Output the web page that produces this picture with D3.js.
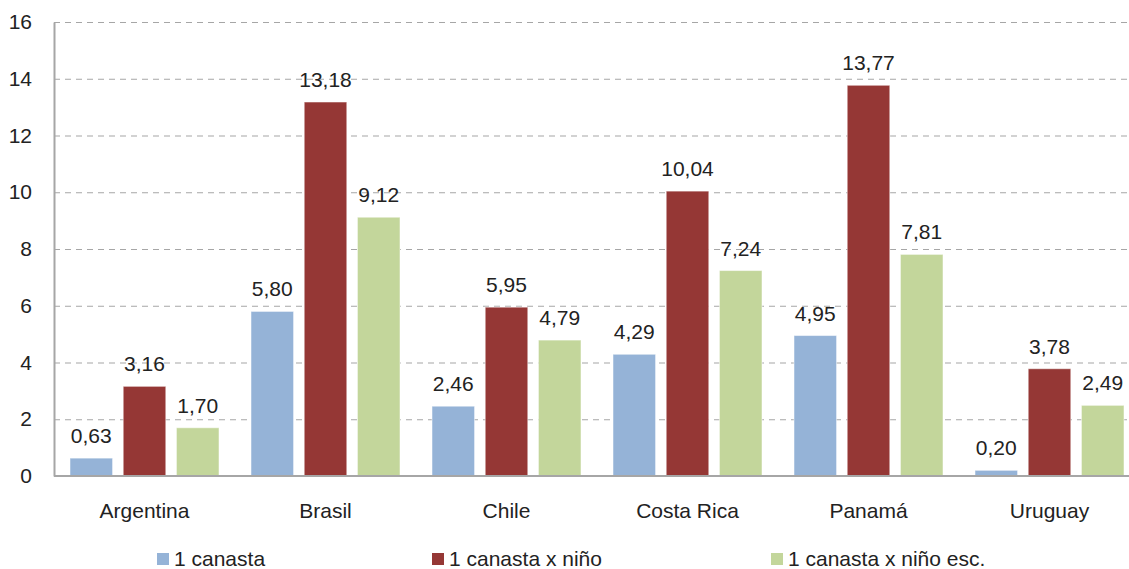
<!DOCTYPE html>
<html><head><meta charset="utf-8">
<script src="https://cdn.jsdelivr.net/npm/d3@7"></script>
<style>body{margin:0;background:#fff}svg{display:block}text{font-family:"Liberation Sans",Arial,sans-serif;fill:#222}</style>
</head><body>
<script>
const categories = ["Argentina","Brasil","Chile","Costa Rica","Panamá","Uruguay"];
const seriesNames = ["1 canasta","1 canasta x niño","1 canasta x niño esc."];
const canasta = [0.63,5.80,2.46,4.29,4.95,0.20];
const canastaNino = [3.16,13.18,5.95,10.04,13.77,3.78];
const canastaNinoEsc = [1.70,9.12,4.79,7.24,7.81,2.49];
const yTicks = [0,2,4,6,8,10,12,14,16];
const colors = ["#95B3D7","#953735","#C3D69B"];

(function(){
const W=1129,H=569, FS=21;
const svg=d3.select("body").append("svg").attr("width",W).attr("height",H);
const mL=54, mR=1140, mT=22, mB=476;
const x=d3.scaleBand().domain(categories).range([mL,mR]).paddingInner(0).paddingOuter(0);
const y=d3.scaleLinear().domain([0,16]).range([mB,mT]);
const xs=d3.scaleBand().domain([0,1,2]).range([16,x.bandwidth()-16]).paddingInner(0.2).paddingOuter(0);

// grid
svg.append("g").selectAll("line").data(yTicks.filter(d=>d>0)).join("line")
 .attr("x1",mL).attr("x2",W).attr("y1",d=>y(d)+0.5).attr("y2",d=>y(d)+0.5)
 .attr("stroke","#A6A6A6").attr("stroke-width",1.2).attr("stroke-dasharray","6,5");

const series=[canasta,canastaNino,canastaNinoEsc];
const fmt=v=>v.toFixed(2).replace(".",",");
series.forEach((vals,si)=>{
 const g=svg.append("g");
 g.selectAll("rect").data(vals).join("rect")
  .attr("x",(d,i)=>x(categories[i])+xs(si)).attr("width",xs.bandwidth())
  .attr("y",d=>y(d)).attr("height",d=>mB-y(d))
  .attr("fill",colors[si]).attr("stroke","rgba(255,255,255,0.5)").attr("stroke-width",1);
 g.selectAll("text").data(vals).join("text")
  .attr("x",(d,i)=>x(categories[i])+xs(si)+xs.bandwidth()/2).attr("y",d=>y(d)-15)
  .attr("text-anchor","middle").attr("font-size",FS).text(fmt);
});

// axes
const yAxis=d3.axisLeft(y).tickValues(yTicks).tickSize(0).tickPadding(22);
const ga=svg.append("g").attr("transform",`translate(${mL},0)`).call(yAxis);
ga.select(".domain").attr("stroke","#A6A6A6").attr("stroke-width",2);
ga.selectAll("text").attr("font-size",FS).attr("fill","#222").style("font-family","Liberation Sans, Arial, sans-serif");
const xAxis=d3.axisBottom(x).tickSize(0).tickPadding(27);
const gx=svg.append("g").attr("transform",`translate(0,${mB})`).call(xAxis);
gx.select(".domain").attr("stroke","#A6A6A6").attr("stroke-width",2).attr("d",`M${mL},0H${W}`);
gx.selectAll("text").attr("font-size",FS).attr("fill","#222").style("font-family","Liberation Sans, Arial, sans-serif");

// legend
const legX=[174,449,788];
seriesNames.forEach((n,i)=>{
 svg.append("rect").attr("x",legX[i]-17).attr("y",553).attr("width",12).attr("height",12).attr("fill",colors[i]);
 svg.append("text").attr("x",legX[i]).attr("y",566).attr("font-size",FS).text(n);
});
})();
</script>
</body></html>
